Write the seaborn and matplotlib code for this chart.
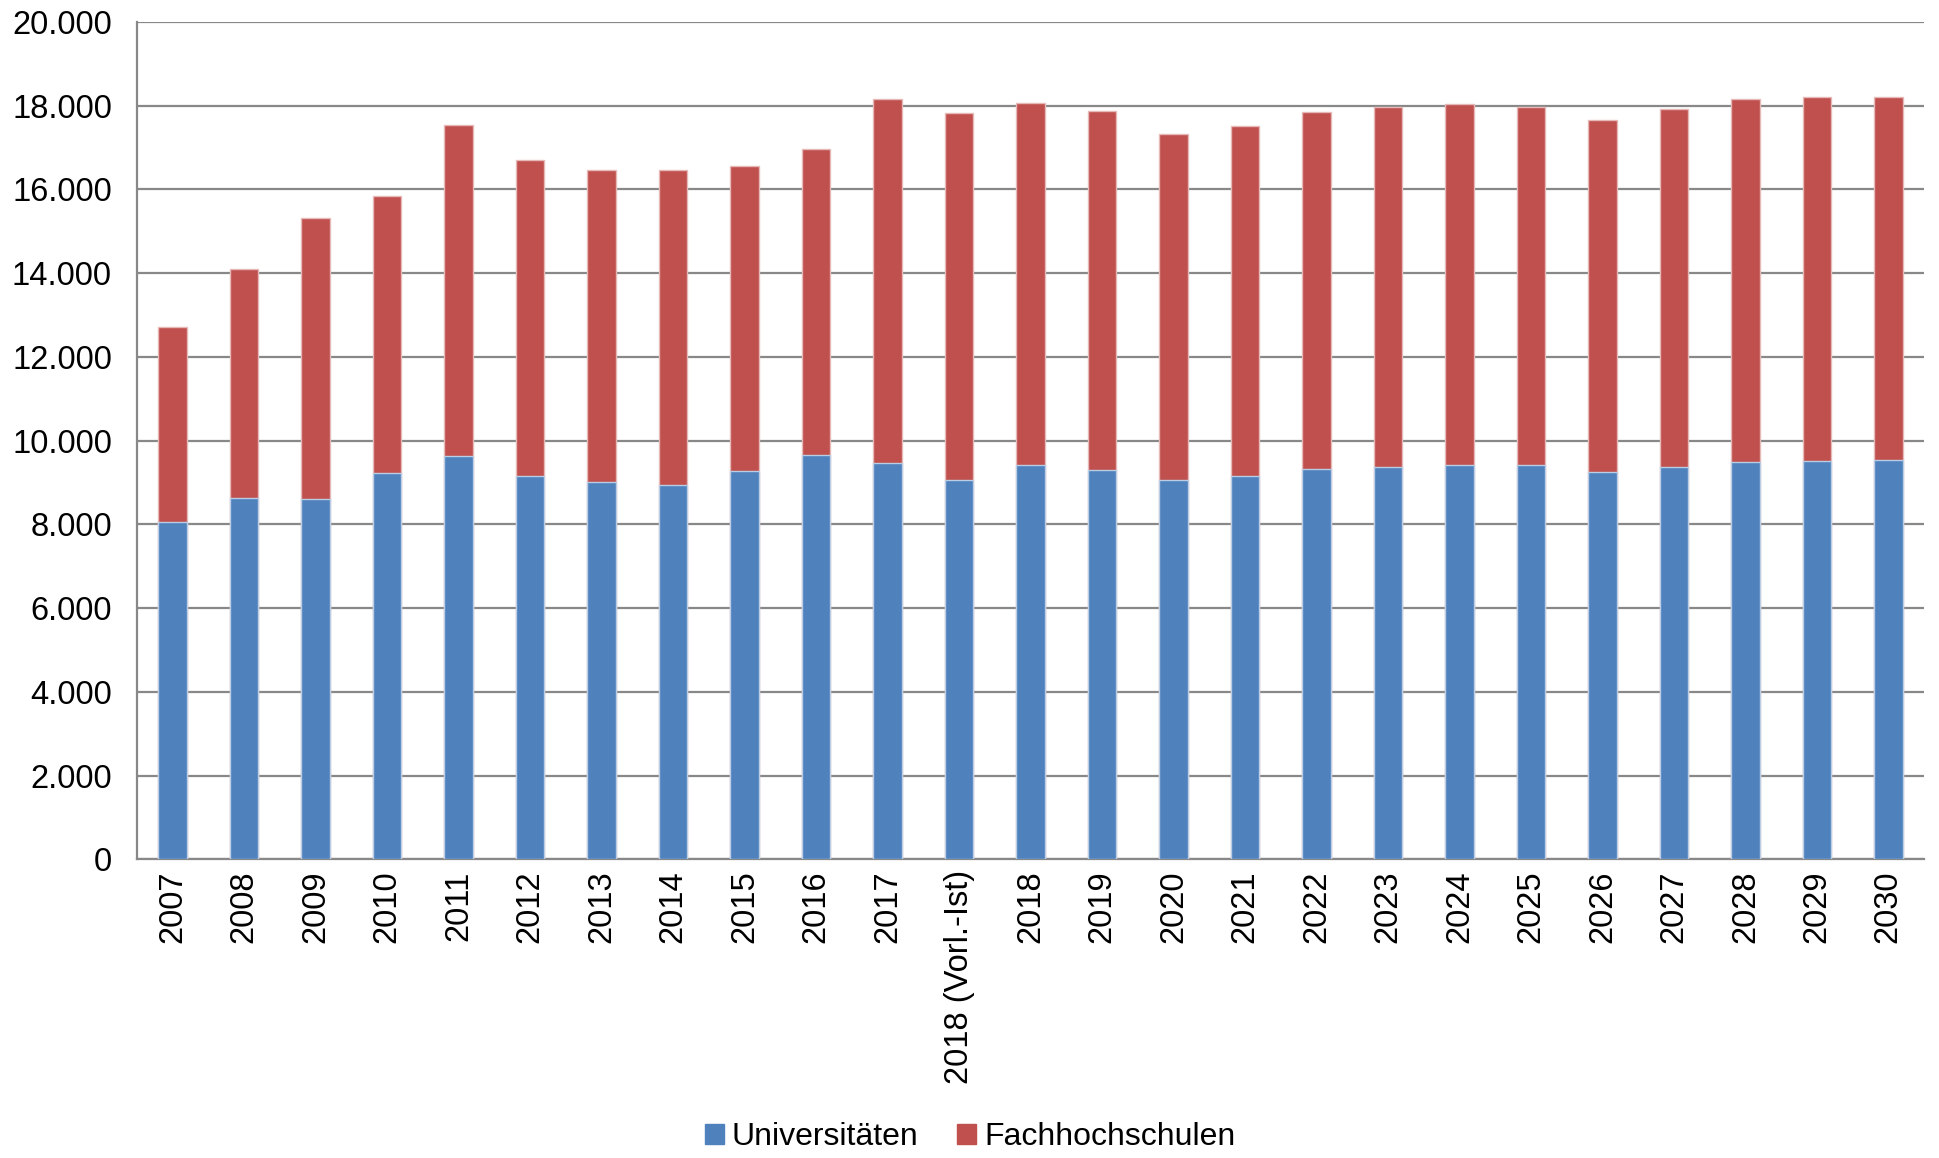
import numpy as np
import pandas as pd
import matplotlib
matplotlib.use("Agg")
import matplotlib.pyplot as plt
import seaborn as sns
from matplotlib.ticker import FuncFormatter, FixedLocator
from matplotlib.patches import Patch

# ================= DATEN =================
jahre = ['2007', '2008', '2009', '2010', '2011', '2012', '2013', '2014', '2015',
         '2016', '2017', '2018 (Vorl.-Ist)', '2018', '2019', '2020', '2021', '2022',
         '2023', '2024', '2025', '2026', '2027', '2028', '2029', '2030']
universitaeten = [8050, 8640, 8610, 9220, 9640, 9160, 9000, 8940, 9270,
                  9660, 9460, 9070, 9410, 9310, 9060, 9150, 9330,
                  9380, 9410, 9410, 9250, 9370, 9490, 9510, 9530]
fachhochschulen = [4670, 5450, 6710, 6620, 7910, 7550, 7460, 7520, 7280,
                   7300, 8710, 8760, 8660, 8560, 8270, 8360, 8520,
                   8580, 8630, 8560, 8410, 8550, 8680, 8700, 8690]

BLAU = '#4F81BD'
ROT = '#C0504D'
GRAU = '#888888'

df = pd.DataFrame({'Jahr': jahre, 'Uni': universitaeten, 'FH': fachhochschulen})
df['Gesamt'] = df['Uni'] + df['FH']

# ================= PLOT =================
sns.set_style("white")
plt.rcParams['font.family'] = ['Liberation Sans', 'DejaVu Sans']
plt.rcParams['text.color'] = 'black'
plt.rcParams['xtick.labelcolor'] = 'black'
plt.rcParams['ytick.labelcolor'] = 'black'

fig = plt.figure(figsize=(19.4, 11.58), dpi=100)
ax = fig.add_axes([0.0706, 0.258, 0.9212, 0.723])

# gestapelt: erst Gesamt (rot), dann Universitäten (blau) darüber
sns.barplot(data=df, x='Jahr', y='Gesamt', color=ROT, saturation=1, width=0.4,
            edgecolor='#E6B9B8', linewidth=1, ax=ax, zorder=3)
sns.barplot(data=df, x='Jahr', y='Uni', color=BLAU, saturation=1, width=0.4,
            edgecolor='#B9CDE5', linewidth=1, ax=ax, zorder=4)

ax.set_ylim(0, 20000)
ax.set_xlim(-0.5, len(jahre) - 0.5)
ax.yaxis.set_major_locator(FixedLocator(np.arange(0, 20001, 2000)))
ax.yaxis.set_major_formatter(FuncFormatter(lambda v, p: f"{int(v):,}".replace(',', '.')))
ax.grid(axis='y', color=GRAU, linewidth=1.6, zorder=0)
ax.set_axisbelow(True)

ax.set_xlabel('')
ax.set_ylabel('')
ax.set_xticks(range(len(jahre)))
ax.set_xticklabels(jahre, rotation=90, fontsize=23.5)
ax.tick_params(axis='x', which='major', length=0, pad=8)
ax.set_xticks(np.arange(-0.5, len(jahre), 1.0), minor=True)
ax.tick_params(axis='x', which='minor', length=10, color=GRAU, width=1.2)
ax.tick_params(axis='y', length=10, color=GRAU, width=1.2, labelsize=23.5, pad=8)

for s in ['top', 'right']:
    ax.spines[s].set_visible(False)
for s in ['left', 'bottom']:
    ax.spines[s].set_color(GRAU)
    ax.spines[s].set_linewidth(1.6)

handles = [Patch(color=BLAU, label='Universitäten'), Patch(color=ROT, label='Fachhochschulen')]
fig.legend(handles=handles, loc='lower center', bbox_to_anchor=(0.5, -0.02), ncol=2,
           frameon=False, fontsize=23, handlelength=0.6, handleheight=0.6,
           handletextpad=0.25, columnspacing=1.2)

plt.savefig('out.png', dpi=100)
